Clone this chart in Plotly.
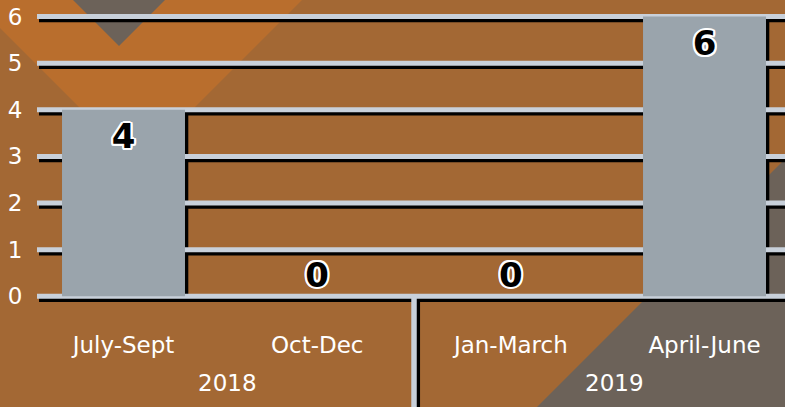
import plotly.graph_objects as go

# ---- data ----
quarters = ["July-Sept", "Oct-Dec", "Jan-March", "April-June"]
years = ["2018", "2019"]
year_groups = [[0, 1], [2, 3]]          # category indexes belonging to each year
values = [4, 0, 0, 6]
y_ticks = [0, 1, 2, 3, 4, 5, 6]

# ---- styling ----
W_PX, H_PX = 785, 407
M_LEFT = 37
UNIT_X = 193.67          # pixels per category
UNIT_Y = 46.63           # pixels per value unit
FIRST_CAT_PX = 123.5
Y6_PX = 16.5
BAR_W = 0.635

BROWN = "#A36834"
ORANGE = "#B96E2D"
SLATE = "#6C6259"
BAR = "#9AA4AC"
GRID = "#C8D0DA"
SHADOW = "#000000"
FONT = "DejaVu Sans"

X0 = -(FIRST_CAT_PX - M_LEFT) / UNIT_X
X1 = X0 + (W_PX - M_LEFT) / UNIT_X
Y_TOP = 6 + Y6_PX / UNIT_Y
Y_BOT = Y_TOP - H_PX / UNIT_Y
DX = 3.3 / UNIT_X
DY = 3.3 / UNIT_Y
LABEL_IN = 30 / UNIT_Y     # label offset below a bar top
LABEL_OUT = 18 / UNIT_Y    # label offset above an empty bar


def ydata(p):
    return Y_TOP - p / UNIT_Y


def pap(px, py):
    return (px - M_LEFT) / (W_PX - M_LEFT), (H_PX - py) / H_PX


def poly(points, color):
    pts = [pap(x, y) for x, y in points]
    d = "M " + " L ".join(f"{x:.5f},{y:.5f}" for x, y in pts) + " Z"
    return dict(type="path", xref="paper", yref="paper", path=d,
                fillcolor=color, line=dict(width=0), layer="below")


shapes = []
# decorative background
shapes.append(poly([(-40, -12), (314, -12), (137, 165)], ORANGE))
shapes.append(poly([(61, -12), (177, -12), (119, 46)], SLATE))
shapes.append(poly([(810, 134), (810, 430), (514, 430)], SLATE))

# bar drop shadows
for i, v in enumerate(values):
    if v > 0:
        shapes.append(dict(type="rect", xref="x", yref="y",
                           x0=i - BAR_W / 2 + DX, x1=i + BAR_W / 2 + DX,
                           y0=-DY, y1=v - DY, fillcolor=SHADOW,
                           line=dict(width=0), layer="below"))
# gridline shadows
for k in y_ticks:
    shapes.append(dict(type="line", xref="x", yref="y", x0=X0 + 2 / UNIT_X, x1=X1,
                       y0=k - DY, y1=k - DY, line=dict(color=SHADOW, width=5),
                       layer="below"))
# divider shadow
div_x = (year_groups[0][-1] + year_groups[1][0]) / 2
shapes.append(dict(type="line", xref="x", yref="y", x0=div_x + DX, x1=div_x + DX,
                   y0=-DY, y1=Y_BOT, line=dict(color=SHADOW, width=5.5), layer="below"))
# gridlines
for k in y_ticks:
    shapes.append(dict(type="line", xref="x", yref="y", x0=X0, x1=X1, y0=k, y1=k,
                       line=dict(color=GRID, width=5), layer="below"))
# divider
shapes.append(dict(type="line", xref="x", yref="y", x0=div_x, x1=div_x,
                   y0=0, y1=Y_BOT, line=dict(color=GRID, width=5.5), layer="below"))

outline = ", ".join(f"{a}px {b}px 0 #ffffff" for a, b in
                    [(2, 0), (-2, 0), (0, 2), (0, -2), (1.5, 1.5), (-1.5, -1.5),
                     (1.5, -1.5), (-1.5, 1.5), (2, 1), (-2, 1), (2, -1), (-2, -1)])

fig = go.Figure()
fig.add_trace(go.Bar(
    x=quarters, y=values, width=BAR_W,
    marker=dict(color=BAR, line=dict(width=0)),
    hoverinfo="skip",
))
fig.add_trace(go.Scatter(
    x=quarters,
    y=[v - LABEL_IN if v > 0 else v + LABEL_OUT for v in values],
    mode="text",
    text=[str(v) for v in values],
    textposition="middle center",
    textfont=dict(family=FONT, size=34, color="black", weight="bold", shadow=outline),
    cliponaxis=False,
    hoverinfo="skip",
))

annotations = []
for yr, grp in zip(years, year_groups):
    annotations.append(dict(x=sum(grp) / len(grp), y=ydata(383), xref="x", yref="y",
                            text=yr, showarrow=False, xshift=7, yanchor="middle",
                            font=dict(family=FONT, size=23, color="white")))

fig.update_layout(
    width=W_PX, height=H_PX,
    margin=dict(l=M_LEFT, r=0, t=0, b=0),
    paper_bgcolor=BROWN, plot_bgcolor="rgba(0,0,0,0)",
    showlegend=False, barmode="overlay",
    shapes=shapes, annotations=annotations,
    xaxis=dict(type="category", range=[X0, X1], showgrid=False, zeroline=False,
               showline=False, anchor="free", position=(H_PX - 300) / H_PX,
               ticks="outside", ticklen=24, tickcolor="rgba(0,0,0,0)",
               tickfont=dict(family=FONT, size=23, color="white"), fixedrange=True),
    yaxis=dict(range=[Y_BOT, Y_TOP], tickvals=y_ticks, showgrid=False, zeroline=False,
               showline=False, ticks="outside", ticklen=9, tickcolor="rgba(0,0,0,0)",
               tickfont=dict(family=FONT, size=23, color="white"), fixedrange=True),
)

fig.write_html("out.html", config={"displayModeBar": False},
               post_script="document.body.style.margin='0';document.body.style.overflow='hidden';")
